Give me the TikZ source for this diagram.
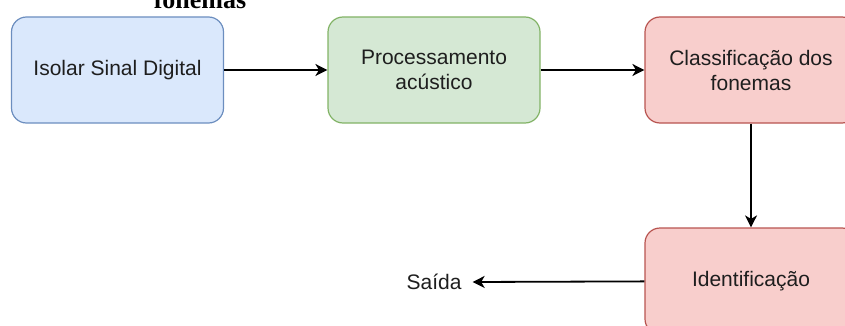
\documentclass[tikz,border=0pt]{standalone}
\usepackage{fontspec}
\setmainfont{Liberation Sans}
\newfontfamily\titleserif{Liberation Serif}
\usetikzlibrary{arrows.meta}

\definecolor{bluefill}{HTML}{DAE8FC}
\definecolor{bluestroke}{HTML}{6C8EBF}
\definecolor{greenfill}{HTML}{D5E8D4}
\definecolor{greenstroke}{HTML}{82B366}
\definecolor{redfill}{HTML}{F8CECC}
\definecolor{redstroke}{HTML}{B85450}
\definecolor{txt}{HTML}{1E1E1E}

\tikzset{
  stage/.style={rectangle, rounded corners=15pt, line width=1.2pt,
    minimum width=212pt, minimum height=106pt, inner sep=0pt,
    align=center, text=txt,
    font=\fontsize{21}{25}\selectfont},
  bluebox/.style={stage, fill=bluefill, draw=bluestroke},
  greenbox/.style={stage, fill=greenfill, draw=greenstroke},
  redbox/.style={stage, fill=redfill, draw=redstroke},
  flow/.style={line width=1.8pt, draw=black,
    -{Stealth[length=12pt,width=12pt,inset=3.5pt]}},
  plain/.style={text=txt, font=\fontsize{21}{25}\selectfont, inner sep=0pt}
}

\begin{document}
\begin{tikzpicture}[x=1pt, y=-1pt]
  \useasboundingbox (0,0) rectangle (845,326);
  \clip (0,0) rectangle (845,326);

  % heading fragment above the first stage
  \node[font=\titleserif\bfseries\fontsize{26}{30}\selectfont, anchor=base, inner sep=0pt]
    (heading) at (200,9) {fonemas};

  % processing stages
  \node[bluebox]  (isolar)  at (117.5,70) {Isolar Sinal Digital};
  \node[greenbox] (proc)    at (434,70)   {Processamento\\acústico};
  \node[redbox]   (classif) at (751,70)   {Classificação dos\\fonemas};
  \node[redbox]   (ident)   at (751,281)  {Identificação};
  \node[plain]    (saida)   at (434,282)  {Saída};

  % connectors
  \draw[flow] (isolar) -- (proc);
  \draw[flow] (proc) -- (classif);
  \draw[flow] (classif) -- (ident);
  \draw[flow] (ident) -- ([xshift=11pt]saida.east);
\end{tikzpicture}
\end{document}
